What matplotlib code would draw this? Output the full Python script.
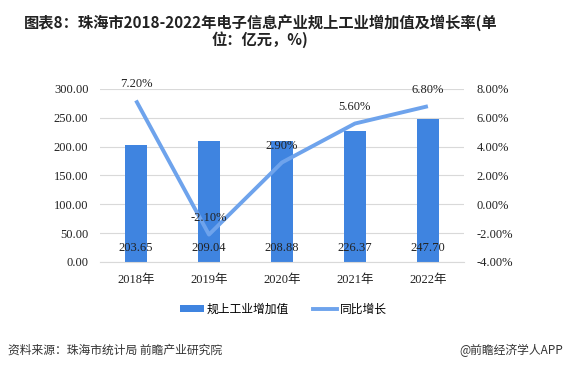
import matplotlib
matplotlib.use("Agg")
import matplotlib.pyplot as plt
from matplotlib.lines import Line2D
from matplotlib.patches import Patch

years = ["2018年", "2019年", "2020年", "2021年", "2022年"]
values = [203.65, 209.04, 208.88, 226.37, 247.70]
growth = [7.20, -2.10, 2.90, 5.60, 6.80]
left_ticks = [0, 50, 100, 150, 200, 250, 300]
right_ticks = [-4, -2, 0, 2, 4, 6, 8]

title = "图表8：珠海市2018-2022年电子信息产业规上工业增加值及增长率(单\n位：亿元，%)"
source = "资料来源：珠海市统计局 前瞻产业研究院"
brand = "@前瞻经济学人APP"

bar_color = "#3F84E0"
line_color = "#6EA3EC"
serif = ["Liberation Serif", "Noto Sans CJK SC"]
sans = ["Noto Sans CJK SC", "DejaVu Sans"]

fig = plt.figure(figsize=(5.67, 3.69), dpi=100)
ax = fig.add_axes([0.1755, 0.29, 0.6435, 0.469])
ax2 = ax.twinx()

x = list(range(len(years)))
ax.bar(x, values, width=0.31, color=bar_color, zorder=2)
ax.set_xlim(-0.5, len(years) - 0.5)
ax.set_ylim(0, 300)
ax.set_yticks(left_ticks)
ax.set_yticklabels([f"{v:.2f}" for v in left_ticks], fontfamily=serif, fontsize=9, color="#222222")
ax.set_xticks(x)
ax.set_xticklabels(years, fontfamily=serif, fontsize=9, color="#222222")
ax.grid(axis="y", color="#D9D9D9", linewidth=0.8, zorder=0)
ax.set_axisbelow(True)
for s in ["left", "right", "top"]:
    ax.spines[s].set_visible(False)
ax.spines["bottom"].set_color("#D9D9D9")
ax.tick_params(axis="both", length=0)
ax.tick_params(axis="x", pad=9)
ax.tick_params(axis="y", pad=8)

for xi, v in zip(x, values):
    ax.text(xi, 24, f"{v:.2f}", ha="center", va="center", fontfamily=serif, fontsize=9,
            color="#222222", zorder=5)

ax2.plot(x, growth, color=line_color, linewidth=2.8, solid_capstyle="butt", zorder=3)
ax2.set_ylim(-4, 8)
ax2.set_yticks(right_ticks)
ax2.set_yticklabels([f"{v:.2f}%" for v in right_ticks], fontfamily=serif, fontsize=9, color="#222222")
for s in ["left", "right", "top", "bottom"]:
    ax2.spines[s].set_visible(False)
ax2.tick_params(axis="y", length=0, pad=9)
for xi, g in zip(x, growth):
    ax2.annotate(f"{g:.2f}%", (xi, g), xytext=(0, 12), textcoords="offset points",
                 ha="center", va="center", fontfamily=serif, fontsize=9, color="#222222")

fig.text(0.459, 0.962, title, ha="center", va="top", fontfamily=sans, fontsize=11,
         fontweight="bold", color="#222222", linespacing=1.05)

handles = [Patch(facecolor=bar_color, edgecolor="none"),
           Line2D([0], [0], color=line_color, linewidth=2.8)]
fig.legend(handles, ["规上工业增加值", "同比增长"], loc="center", bbox_to_anchor=(0.5, 0.163),
           ncol=2, frameon=False, prop={"family": sans, "size": 8.5},
           handlelength=2.0, handleheight=0.5, columnspacing=2.0, handletextpad=0.3)

fig.text(0.014, 0.05, source, ha="left", va="center", fontfamily=sans, fontsize=8.5, color="#333333")
fig.text(0.993, 0.05, brand, ha="right", va="center", fontfamily=sans, fontsize=8.5, color="#333333")

fig.savefig("out.png", dpi=100, facecolor="white")
